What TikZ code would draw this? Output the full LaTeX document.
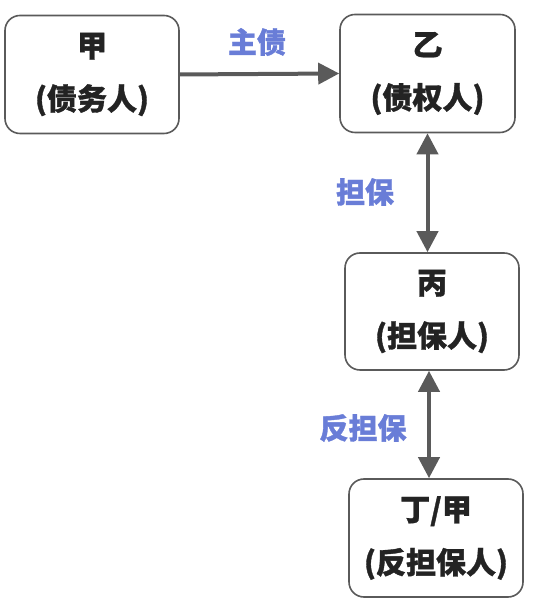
\documentclass[tikz,border=0pt]{standalone}
\usepackage{fontspec}
\newfontfamily\cjk{Noto Sans CJK SC}[FakeBold=1.2]
\usetikzlibrary{arrows.meta,calc}
\definecolor{boxline}{RGB}{90,90,90}
\definecolor{txt}{RGB}{35,35,35}
\definecolor{lab}{RGB}{105,125,215}
\definecolor{arr}{RGB}{90,90,90}
\begin{document}
\begin{tikzpicture}[x=1pt,y=1pt,
  party/.style={draw=boxline,line width=1.6pt,rounded corners=15pt,fill=white,
    minimum width=174pt,minimum height=118pt,inner sep=0pt,align=center,
    text=txt,font=\cjk\bfseries\fontsize{30}{53}\selectfont},
  lbl/.style={text=lab,font=\cjk\bfseries\fontsize{29}{32}\selectfont,inner sep=0pt},
  conn/.style={draw=arr,line width=4pt,-{Triangle[length=21pt,width=21pt]}},
  bconn/.style={draw=arr,line width=4pt,{Triangle[length=21pt,width=21pt]}-{Triangle[length=21pt,width=21pt]}}]
\useasboundingbox (0,0) rectangle (538,607);
\node[party] (a) at (92,532.5) {甲\\(债务人)};
\node[party,minimum width=175pt] (b) at (427.5,533.5) {乙\\(债权人)};
\node[party,minimum height=117pt] (c) at (432,295.5) {丙\\(担保人)};
\node[party] (d) at (436,69) {丁/甲\\(反担保人)};
\draw[conn] (a.east) -- (b.west);
\draw[bconn] (b.south) -- (b.south |- c.north);
\draw[bconn] ([xshift=-3pt]c.south) -- ([xshift=-3pt]c.south |- d.north);
\node[lbl] (l1) at (257,565) {主债};
\node[lbl] (l2) at (365,415) {担保};
\node[lbl] (l3) at (363,179) {反担保};
\end{tikzpicture}
\end{document}
